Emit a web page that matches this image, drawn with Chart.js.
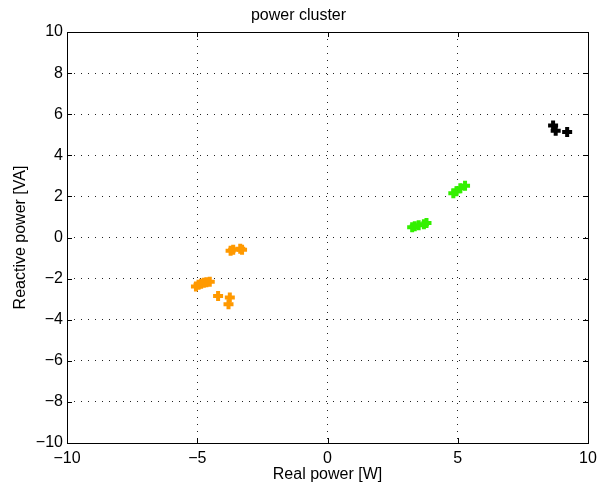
<!DOCTYPE html>
<html>
<head>
<meta charset="utf-8">
<script src="https://cdn.jsdelivr.net/npm/chart.js@4"></script>
<style>
  html, body { margin: 0; padding: 0; background: #fff; }
  #wrap { width: 597px; height: 488px; }
</style>
</head>
<body>
<div id="wrap"><canvas id="powerChart" width="597" height="488"></canvas></div>
<script>
const orangeX = [-3.72, -3.62, -3.35, -3.28, -5.05, -4.95, -4.85, -4.75, -4.65, -4.52, -4.2, -3.75, -3.8];
const orangeY = [-0.65, -0.6, -0.55, -0.6, -2.38, -2.3, -2.25, -2.2, -2.18, -2.15, -2.85, -2.92, -3.25];
const greenX = [3.25, 3.35, 3.5, 3.7, 3.8, 4.83, 4.95, 5.1, 5.28];
const greenY = [0.5, 0.55, 0.6, 0.65, 0.7, 2.15, 2.25, 2.4, 2.52];
const blackX = [8.66, 8.76, 9.2];
const blackY = [5.45, 5.2, 5.13];

const xTicks = [-10, -5, 0, 5, 10];
const yTicks = [-10, -8, -6, -4, -2, 0, 2, 4, 6, 8, 10];

const FONT = 'Liberation Sans, Arial, sans-serif';

function toPoints(xs, ys) {
    return xs.map((x, i) => ({ x: x, y: ys[i] }));
}

function cluster(xs, ys, color) {
    return {
        data: toPoints(xs, ys),
        pointStyle: 'cross',
        pointRadius: 5,
        pointBorderWidth: 4,
        borderColor: color,
        backgroundColor: color,
        showLine: false
    };
}

// minus sign like the reference labels
function fmt(v) {
    return v < 0 ? '\u2212' + Math.abs(v) : String(v);
}

// box round the plot plus MATLAB-style inner tick marks
const framePlugin = {
    id: 'frame',
    afterDraw(chart) {
        const c = chart.ctx;
        const a = chart.chartArea;
        const xs = chart.scales.x, ys = chart.scales.y;
        c.save();
        c.setLineDash([]);
        c.strokeStyle = '#000';
        c.lineWidth = 1;
        c.beginPath();
        xTicks.forEach(v => {
            const px = Math.round(xs.getPixelForValue(v)) + 0.5;
            c.moveTo(px, a.bottom); c.lineTo(px, a.bottom - 5);
            c.moveTo(px, a.top); c.lineTo(px, a.top + 5);
        });
        yTicks.forEach(v => {
            const py = Math.round(ys.getPixelForValue(v)) + 0.5;
            c.moveTo(a.left, py); c.lineTo(a.left + 5, py);
            c.moveTo(a.right, py); c.lineTo(a.right - 5, py);
        });
        c.stroke();
        c.strokeRect(Math.round(a.left) + 0.5, Math.round(a.top) + 0.5,
            Math.round(a.right - a.left), Math.round(a.bottom - a.top));
        c.restore();
    }
};

const ctx = document.getElementById('powerChart').getContext('2d');
const powerChart = new Chart(ctx, {
    type: 'scatter',
    data: {
        datasets: [
            cluster(orangeX, orangeY, '#ff9900'),
            cluster(greenX, greenY, '#33f000'),
            cluster(blackX, blackY, '#000000')
        ]
    },
    options: {
        responsive: false,
        animation: false,
        layout: {
            padding: 0
        },
        plugins: {
            legend: { display: false },
            tooltip: { enabled: false },
            title: {
                display: true,
                text: 'power cluster',
                color: '#000',
                font: { family: FONT, size: 16, weight: 'normal' },
                padding: { top: 6, bottom: 6.8 }
            }
        },
        scales: {
            x: {
                type: 'linear',
                min: -10,
                max: 10,
                afterBuildTicks: (s) => { s.ticks = xTicks.map(v => ({ value: v })); },
                afterFit: (s) => { s.height = 45; s.paddingLeft = 0; s.paddingRight = 8; },
                border: { display: false, dash: [1, 6] },
                grid: {
                    color: '#222',
                    lineWidth: 1,
                    drawTicks: false
                },
                ticks: {
                    color: '#000',
                    padding: 6,
                    maxRotation: 0,
                    callback: (v) => fmt(v),
                    font: { family: FONT, size: 16 }
                },
                title: {
                    display: true,
                    text: 'Real power [W]',
                    color: '#000',
                    padding: { top: 0, bottom: 3.4 },
                    font: { family: FONT, size: 16 }
                }
            },
            y: {
                type: 'linear',
                min: -10,
                max: 10,
                afterBuildTicks: (s) => { s.ticks = yTicks.map(v => ({ value: v })); },
                afterFit: (s) => { s.width = 67; },
                border: { display: false, dash: [1, 6] },
                grid: {
                    color: '#222',
                    lineWidth: 1,
                    drawTicks: false
                },
                ticks: {
                    color: '#000',
                    padding: 4,
                    callback: (v) => fmt(v),
                    font: { family: FONT, size: 16 }
                },
                title: {
                    display: true,
                    text: 'Reactive power [VA]',
                    color: '#000',
                    padding: { top: 11.4, bottom: 0 },
                    font: { family: FONT, size: 16 }
                }
            }
        }
    },
    plugins: [framePlugin]
});
</script>
</body>
</html>
